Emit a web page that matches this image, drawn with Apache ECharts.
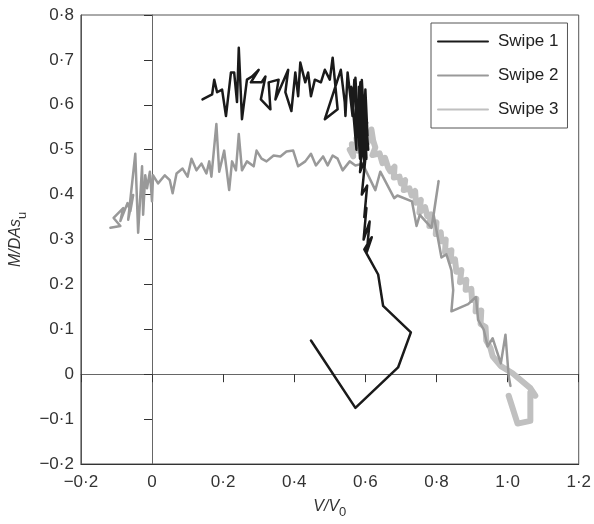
<!DOCTYPE html>
<html>
<head>
<meta charset="utf-8">
<script src="https://cdn.jsdelivr.net/npm/echarts@6/dist/echarts.min.js"></script>
<style>html,body{margin:0;padding:0;background:#fff}#c{width:594px;height:524px}</style>
</head>
<body>
<div id="c"></div>
<script>
var xTickLabels = ['\u22120\u00b72', '0', '0\u00b72', '0\u00b74', '0\u00b76', '0\u00b78', '1\u00b70', '1\u00b72'];
var yTickLabels = ['\u22120\u00b72', '\u22120\u00b71', '0', '0\u00b71', '0\u00b72', '0\u00b73', '0\u00b74', '0\u00b75', '0\u00b76', '0\u00b77', '0\u00b78'];
var seriesNames = ['Swipe 1', 'Swipe 2', 'Swipe 3'];

var swipe1 = [[0.142,0.612],[0.169,0.623],[0.175,0.656],[0.183,0.628],[0.197,0.634],[0.208,0.575],[0.222,0.672],[0.231,0.672],[0.239,0.606],[0.244,0.727],[0.253,0.568],[0.267,0.656],[0.281,0.663],[0.300,0.678],[0.278,0.650],[0.308,0.650],[0.319,0.663],[0.306,0.612],[0.333,0.590],[0.328,0.650],[0.356,0.656],[0.347,0.612],[0.383,0.678],[0.375,0.628],[0.392,0.586],[0.403,0.672],[0.411,0.619],[0.417,0.694],[0.431,0.650],[0.439,0.672],[0.447,0.619],[0.458,0.656],[0.475,0.650],[0.486,0.678],[0.500,0.656],[0.508,0.705],[0.522,0.590],[0.486,0.568],[0.531,0.678],[0.542,0.606],[0.544,0.575],[0.550,0.672],[0.564,0.575],[0.569,0.656],[0.578,0.553],[0.586,0.650],[0.597,0.540],[0.600,0.634],[0.606,0.531],[0.560,0.640],[0.575,0.500],[0.572,0.660],[0.585,0.480],[0.582,0.640],[0.595,0.510],[0.590,0.655],[0.603,0.480],[0.596,0.620],[0.608,0.500],[0.575,0.600],[0.598,0.470],[0.588,0.580],[0.605,0.560],[0.590,0.490],[0.600,0.530],[0.592,0.520],[0.585,0.450],[0.600,0.480],[0.590,0.400],[0.605,0.420],[0.597,0.350],[0.603,0.370],[0.595,0.300],[0.612,0.340],[0.604,0.272],[0.618,0.305],[0.597,0.278],[0.611,0.258],[0.636,0.222],[0.650,0.152],[0.728,0.093],[0.692,0.015],[0.572,-0.075],[0.447,0.075]];

var swipe2 = [[-0.117,0.326],[-0.089,0.330],[-0.108,0.348],[-0.081,0.370],[-0.089,0.341],[-0.069,0.381],[-0.061,0.363],[-0.053,0.399],[-0.067,0.344],[-0.047,0.491],[-0.039,0.315],[-0.028,0.463],[-0.025,0.355],[-0.019,0.443],[-0.014,0.414],[-0.006,0.451],[0.000,0.385],[0.003,0.443],[0.017,0.425],[0.036,0.443],[0.050,0.432],[0.058,0.403],[0.069,0.447],[0.086,0.458],[0.100,0.440],[0.111,0.480],[0.125,0.454],[0.139,0.469],[0.153,0.447],[0.161,0.474],[0.167,0.440],[0.181,0.557],[0.189,0.451],[0.203,0.498],[0.217,0.410],[0.225,0.474],[0.236,0.454],[0.244,0.535],[0.253,0.454],[0.267,0.474],[0.286,0.463],[0.294,0.498],[0.308,0.480],[0.322,0.474],[0.342,0.487],[0.361,0.485],[0.378,0.496],[0.397,0.498],[0.411,0.463],[0.431,0.474],[0.447,0.491],[0.461,0.465],[0.481,0.485],[0.494,0.465],[0.508,0.487],[0.522,0.480],[0.536,0.454],[0.556,0.474],[0.572,0.465],[0.592,0.469],[0.628,0.410],[0.642,0.451],[0.681,0.392],[0.690,0.398],[0.731,0.385],[0.744,0.330],[0.753,0.355],[0.786,0.326],[0.806,0.430],[0.792,0.355],[0.814,0.260],[0.828,0.267],[0.842,0.231],[0.847,0.187],[0.842,0.140],[0.889,0.156],[0.911,0.172],[0.917,0.121],[0.933,0.099],[0.944,0.062],[0.958,0.080],[0.981,0.024],[0.994,0.088],[1.003,-0.004],[1.008,-0.026]];

var swipe3 = [[0.556,0.500],[0.566,0.485],[0.562,0.512],[0.578,0.498],[0.575,0.525],[0.590,0.508],[0.598,0.538],[0.606,0.515],[0.617,0.545],[0.622,0.520],[0.628,0.505],[0.620,0.488],[0.640,0.492],[0.648,0.470],[0.655,0.482],[0.664,0.460],[0.670,0.452],[0.682,0.462],[0.680,0.438],[0.696,0.440],[0.700,0.425],[0.712,0.432],[0.708,0.410],[0.724,0.414],[0.730,0.398],[0.740,0.408],[0.742,0.382],[0.756,0.388],[0.752,0.360],[0.768,0.372],[0.774,0.352],[0.784,0.356],[0.780,0.330],[0.800,0.338],[0.798,0.312],[0.812,0.316],[0.814,0.296],[0.826,0.300],[0.824,0.272],[0.842,0.276],[0.840,0.252],[0.852,0.256],[0.856,0.228],[0.870,0.232],[0.866,0.205],[0.884,0.210],[0.882,0.188],[0.898,0.190],[0.900,0.165],[0.912,0.168],[0.910,0.140],[0.926,0.142],[0.924,0.112],[0.938,0.105],[0.940,0.075],[0.952,0.058],[0.958,0.040],[0.981,0.018],[1.014,0.002],[1.064,-0.031],[1.078,-0.048],[1.064,-0.040],[1.064,-0.104],[1.028,-0.110],[1.003,-0.048]];

var FONT = 'Liberation Sans, Arial, Helvetica, sans-serif';
var chart = echarts.init(document.getElementById('c'));

function valueAxis(dimMin, dimMax, interval) {
  return { type: 'value', min: dimMin, max: dimMax, interval: interval, splitLine: { show: false } };
}

var xMain = valueAxis(-0.2, 1.2, 0.2);
xMain.position = 'bottom';
xMain.axisLine = { show: true, onZero: false, lineStyle: { color: '#333', width: 1 } };
xMain.axisTick = { show: false };
xMain.axisLabel = { margin: 10, fontSize: 17, color: '#333', fontFamily: FONT, formatter: function (v, i) { return xTickLabels[i]; } };
xMain.name = '{i|V/V}{s|0}';
xMain.nameLocation = 'middle';
xMain.nameGap = 30;
xMain.nameTextStyle = { rich: {
  i: { fontStyle: 'italic', fontSize: 16, color: '#333', fontFamily: FONT },
  s: { fontSize: 13, color: '#333', fontFamily: FONT, padding: [12, 0, 0, 0] }
} };

var xZero = valueAxis(-0.2, 1.2, 0.2);
xZero.position = 'bottom';
xZero.axisLine = { show: true, onZero: true, lineStyle: { color: '#666', width: 1 } };
xZero.axisTick = { show: true, length: 8, lineStyle: { color: '#333' } };
xZero.axisLabel = { show: false };

var yMain = valueAxis(-0.2, 0.8, 0.1);
yMain.position = 'left';
yMain.axisLine = { show: true, onZero: false, lineStyle: { color: '#555', width: 1 } };
yMain.axisTick = { show: false };
yMain.axisLabel = { margin: 7, fontSize: 17, color: '#333', fontFamily: FONT, formatter: function (v, i) { return yTickLabels[i]; } };
yMain.name = '{i|M/DAs}{s|u}';
yMain.nameLocation = 'middle';
yMain.nameGap = 47;
yMain.nameRotate = 90;
yMain.nameTextStyle = { rich: {
  i: { fontStyle: 'italic', fontSize: 16, color: '#333', fontFamily: FONT },
  s: { fontSize: 13, color: '#333', fontFamily: FONT, padding: [12, 0, 0, 0] }
} };

var yZero = valueAxis(-0.2, 0.8, 0.1);
yZero.position = 'left';
yZero.axisLine = { show: true, onZero: true, lineStyle: { color: '#666', width: 1 } };
yZero.axisTick = { show: true, length: 8, lineStyle: { color: '#333' } };
yZero.axisLabel = { show: false };

function lineSeries(name, data, color, width, z) {
  return { name: name, type: 'line', xAxisIndex: 0, yAxisIndex: 0, data: data, showSymbol: false, symbol: 'none',
    animation: false, z: z, lineStyle: { color: color, width: width, join: 'round', cap: 'round' }, itemStyle: { color: color } };
}

chart.setOption({
  animation: false,
  grid: { left: 75, right: 14, top: 15, bottom: 55, show: true, borderColor: '#555', borderWidth: 1, backgroundColor: 'transparent' },
  xAxis: [xMain, xZero],
  yAxis: [yMain, yZero],
  legend: {
    data: seriesNames, orient: 'vertical', left: 431, top: 23,
    borderColor: '#555', borderWidth: 1, padding: [10, 9, 10, 6],
    itemWidth: 50, itemHeight: 16, itemGap: 17,
    itemStyle: { opacity: 0, borderWidth: 0 },
    textStyle: { fontSize: 17, color: '#222', fontFamily: FONT, padding: [0, 0, 0, 5] },
    backgroundColor: '#fff'
  },
  series: [
    lineSeries(seriesNames[0], swipe1, '#1a1a1a', 2.5, 5),
    lineSeries(seriesNames[1], swipe2, '#999999', 2.5, 4),
    lineSeries(seriesNames[2], swipe3, '#c0c0c0', 6, 3)
  ]
});
</script>
</body>
</html>
